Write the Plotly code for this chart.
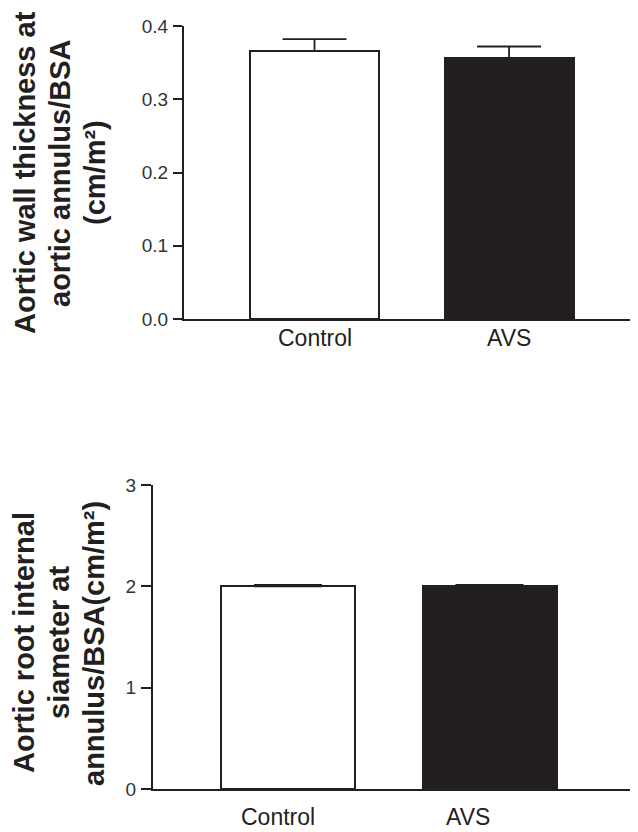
import plotly.graph_objects as go

categories = ["Control", "AVS"]
wall_values = [0.366, 0.356]
wall_errors = [0.016, 0.016]
diam_values = [2.00, 2.00]
diam_errors = [0.015, 0.015]
wall_ticks = [0.0, 0.1, 0.2, 0.3, 0.4]
wall_ticktext = ["0.0", "0.1", "0.2", "0.3", "0.4"]
diam_ticks = [0, 1, 2, 3]
diam_ticktext = ["0", "1", "2", "3"]
bar_colors = ["#ffffff", "#231f20"]
wall_title_lines = ["Aortic wall thickness at", "aortic annulus/BSA", "(cm/m²)"]
diam_title_lines = ["Aortic root internal", "siameter at", "annulus/BSA(cm/m²)"]

INK = "#231f20"
OFF = 8  # page body margin in the browser
W, H = 638 - OFF, 832 - OFF
FONT = "Liberation Sans, Arial, sans-serif"


def px(x):
    return (x - OFF) / W


def py(y):
    return 1 - (y - OFF) / H


fig = go.Figure()
fig.add_trace(go.Bar(
    x=categories, y=wall_values, width=0.663,
    marker=dict(color=bar_colors, line=dict(color=INK, width=2)),
    error_y=dict(type="data", symmetric=False, array=wall_errors, arrayminus=[0, 0],
                 color=INK, thickness=1.8, width=32),
    xaxis="x", yaxis="y", showlegend=False,
))
fig.add_trace(go.Bar(
    x=categories, y=diam_values, width=0.665,
    marker=dict(color=bar_colors, line=dict(color=INK, width=2)),
    error_y=dict(type="data", symmetric=False, array=diam_errors, arrayminus=[0, 0],
                 color=INK, thickness=1.8, width=34),
    xaxis="x2", yaxis="y2", showlegend=False,
))

tickfont = dict(family=FONT, size=19, color="#333333")
catfont = dict(family=FONT, size=23, color=INK)

fig.update_layout(
    width=W, height=H,
    margin=dict(l=0, r=0, t=0, b=0, autoexpand=False),
    plot_bgcolor="white", paper_bgcolor="white",
    bargap=0,
    xaxis=dict(domain=[px(184), 1], anchor="y", range=[-0.671, 1.663],
               showline=True, linecolor=INK, linewidth=2, ticks="",
               showgrid=False, zeroline=False, showticklabels=False,
               automargin=False),
    yaxis=dict(domain=[py(319), py(26)], anchor="x", range=[0, 0.4],
               showline=True, linecolor=INK, linewidth=2, ticks="outside",
               ticklen=9, tickwidth=2, tickcolor=INK,
               tickvals=wall_ticks, ticktext=wall_ticktext, ticklabelstandoff=1,
               showgrid=False, zeroline=False, tickfont=tickfont,
               automargin=False),
    xaxis2=dict(domain=[px(153), 1], anchor="y2", range=[-0.670, 1.737],
                showline=True, linecolor=INK, linewidth=2, ticks="",
                showgrid=False, zeroline=False, showticklabels=False,
                automargin=False),
    yaxis2=dict(domain=[py(789), py(485)], anchor="x2", range=[0, 3],
                showline=True, linecolor=INK, linewidth=2, ticks="outside",
                ticklen=10, tickwidth=2, tickcolor=INK,
                tickvals=diam_ticks, ticktext=diam_ticktext, ticklabelstandoff=1,
                showgrid=False, zeroline=False, tickfont=tickfont,
                automargin=False),
)

# category labels
for cat in categories:
    fig.add_annotation(text=cat, xref="x", yref="paper", x=cat, y=py(338),
                       xanchor="center", yanchor="middle", showarrow=False, font=catfont)
for cat, shift in zip(categories, [-10, -22]):
    fig.add_annotation(text=cat, xref="x2", yref="paper", x=cat, y=py(817),
                       xshift=shift, xanchor="center", yanchor="middle",
                       showarrow=False, font=catfont)

titlefont = dict(family=FONT, size=29, color=INK)
for line, xc in zip(wall_title_lines, [25, 60, 95]):
    fig.add_annotation(text="<b>" + line + "</b>", xref="paper", yref="paper",
                       x=px(xc), y=py(173), xanchor="center", yanchor="middle",
                       textangle=-90, showarrow=False, font=titlefont)
for line, xc in zip(diam_title_lines, [24, 59, 94]):
    fig.add_annotation(text="<b>" + line + "</b>", xref="paper", yref="paper",
                       x=px(xc), y=py(643), xanchor="center", yanchor="middle",
                       textangle=-90, showarrow=False, font=titlefont)

fig.write_html("out.html")
